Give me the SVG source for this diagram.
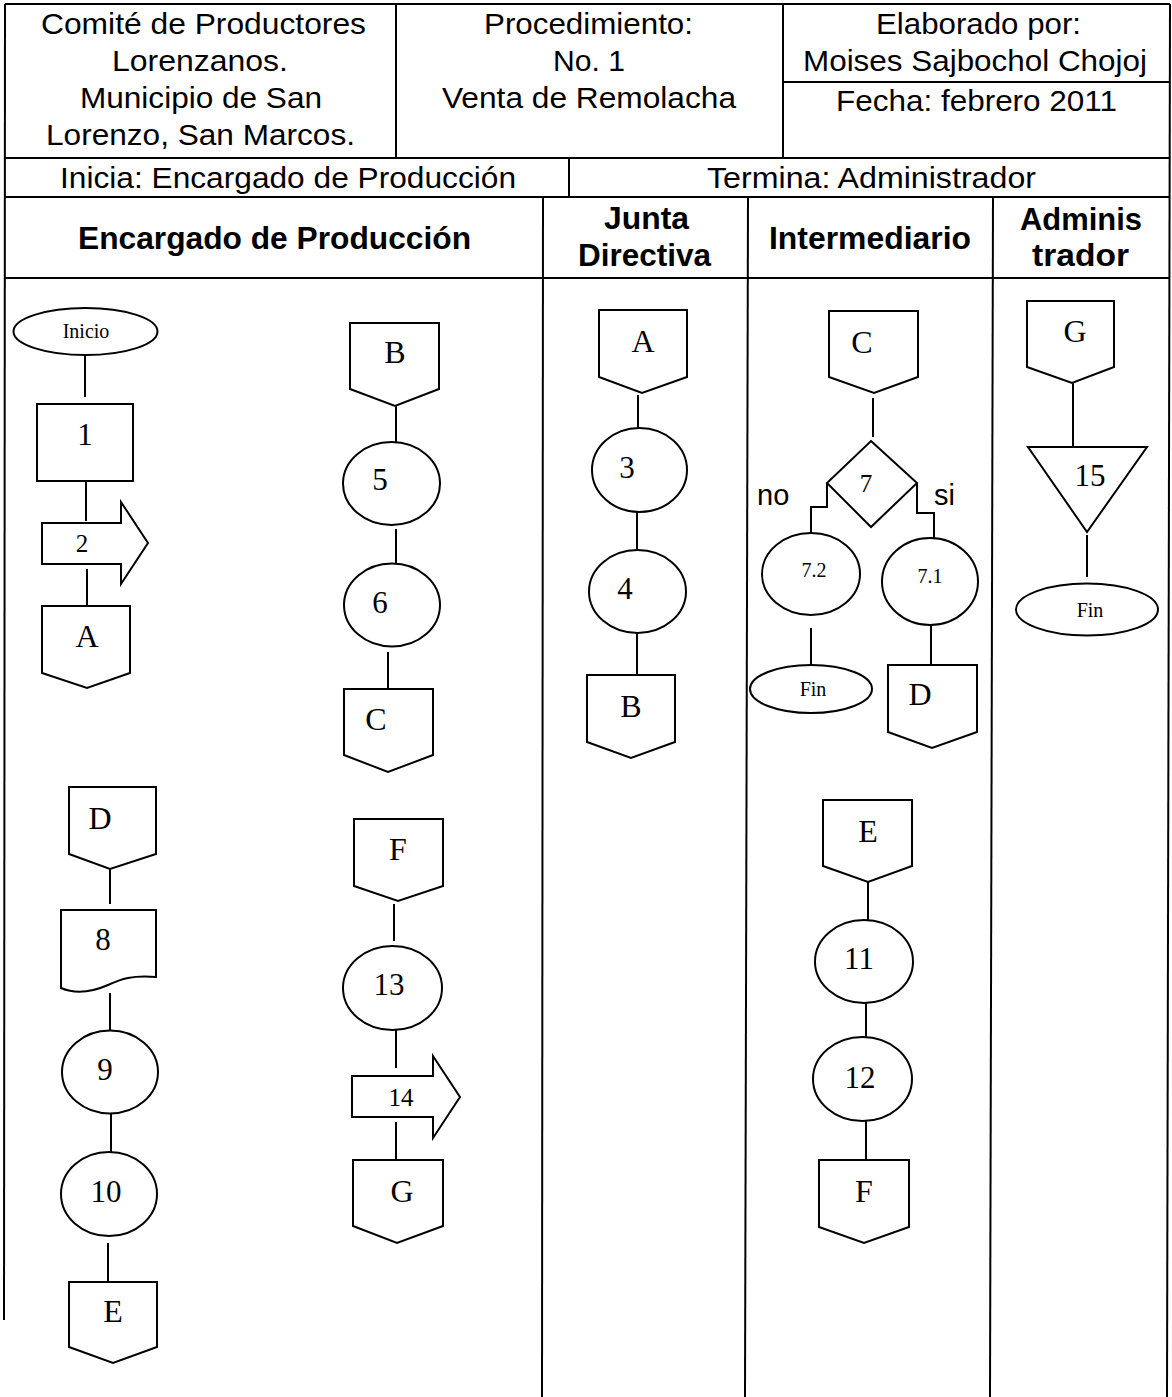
<svg xmlns="http://www.w3.org/2000/svg" width="1172" height="1397" viewBox="0 0 1172 1397">
<style>
.tb{stroke:#000;stroke-width:2;fill:none}
.sh{stroke:#000;stroke-width:2;fill:#fff}
.cn{stroke:#000;stroke-width:2;fill:none}
.h{font-family:"Liberation Sans",Arial,sans-serif;font-size:29px;fill:#000}
.hb{font-family:"Liberation Sans",Arial,sans-serif;font-size:31px;font-weight:bold;fill:#000}
.L{font-family:"Liberation Serif","Times New Roman",serif;font-size:32px;fill:#000;text-anchor:middle}
.N{font-family:"Liberation Serif","Times New Roman",serif;font-size:31px;fill:#000;text-anchor:middle}
.M{font-family:"Liberation Serif","Times New Roman",serif;font-size:25px;fill:#000;text-anchor:middle}
.S{font-family:"Liberation Serif","Times New Roman",serif;font-size:20px;fill:#000;text-anchor:middle}
.ns{font-family:"Liberation Sans",Arial,sans-serif;font-size:29px;fill:#000}
</style>
<rect width="1172" height="1397" fill="#fff"/>
<g id="table">
<line class="tb" x1="5" y1="4" x2="1170" y2="4"/>
<line class="tb" x1="5" y1="158" x2="1170" y2="158"/>
<line class="tb" x1="5" y1="197" x2="1170" y2="197"/>
<line class="tb" x1="5" y1="278" x2="1170" y2="278"/>
<line class="tb" x1="396" y1="4" x2="396" y2="158"/>
<line class="tb" x1="783" y1="4" x2="783" y2="158"/>
<line class="tb" x1="783" y1="82" x2="1170" y2="82"/>
<line class="tb" x1="569" y1="158" x2="569" y2="197"/>
<line class="tb" x1="5" y1="4" x2="4" y2="1320"/>
<line class="tb" x1="543" y1="197" x2="542" y2="1397"/>
<line class="tb" x1="748" y1="197" x2="745" y2="1397"/>
<line class="tb" x1="993" y1="197" x2="990" y2="1397"/>
<line class="tb" x1="1170" y1="4" x2="1167" y2="1397"/>
<text class="h" x="41" y="34" textLength="325" lengthAdjust="spacingAndGlyphs">Comité de Productores</text>
<text class="h" x="112" y="71" textLength="176" lengthAdjust="spacingAndGlyphs">Lorenzanos.</text>
<text class="h" x="80" y="108" textLength="242" lengthAdjust="spacingAndGlyphs">Municipio de San</text>
<text class="h" x="46" y="145" textLength="309" lengthAdjust="spacingAndGlyphs">Lorenzo, San Marcos.</text>
<text class="h" x="484" y="34" textLength="209" lengthAdjust="spacingAndGlyphs">Procedimiento:</text>
<text class="h" x="553" y="71" textLength="72" lengthAdjust="spacingAndGlyphs">No. 1</text>
<text class="h" x="442" y="108" textLength="294" lengthAdjust="spacingAndGlyphs">Venta de Remolacha</text>
<text class="h" x="876" y="34" textLength="205" lengthAdjust="spacingAndGlyphs">Elaborado por:</text>
<text class="h" x="803" y="71" textLength="344" lengthAdjust="spacingAndGlyphs">Moises Sajbochol Chojoj</text>
<text class="h" x="836" y="111" textLength="281" lengthAdjust="spacingAndGlyphs">Fecha: febrero 2011</text>
<text class="h" x="60" y="188" textLength="456" lengthAdjust="spacingAndGlyphs">Inicia: Encargado de Producción</text>
<text class="h" x="707" y="188" textLength="329" lengthAdjust="spacingAndGlyphs">Termina: Administrador</text>
<text class="hb" x="78" y="249" textLength="393" lengthAdjust="spacingAndGlyphs">Encargado de Producción</text>
<text class="hb" x="604" y="229" textLength="85" lengthAdjust="spacingAndGlyphs">Junta</text>
<text class="hb" x="578" y="266" textLength="133" lengthAdjust="spacingAndGlyphs">Directiva</text>
<text class="hb" x="769" y="249" textLength="202" lengthAdjust="spacingAndGlyphs">Intermediario</text>
<text class="hb" x="1020" y="230" textLength="122" lengthAdjust="spacingAndGlyphs">Adminis</text>
<text class="hb" x="1032" y="266" textLength="97" lengthAdjust="spacingAndGlyphs">trador</text>
</g>
<g id="connectors">
<line class="cn" x1="85" y1="355" x2="85" y2="397"/>
<line class="cn" x1="86" y1="481" x2="86" y2="521"/>
<line class="cn" x1="87" y1="569" x2="87" y2="606"/>
<line class="cn" x1="396" y1="406" x2="396" y2="442"/>
<line class="cn" x1="396" y1="529" x2="396" y2="568"/>
<line class="cn" x1="388" y1="652" x2="388" y2="689"/>
<line class="cn" x1="110" y1="869" x2="110" y2="904"/>
<line class="cn" x1="110" y1="993" x2="110" y2="1031"/>
<line class="cn" x1="111" y1="1114" x2="111" y2="1152"/>
<line class="cn" x1="108" y1="1243" x2="108" y2="1282"/>
<line class="cn" x1="394" y1="904" x2="394" y2="941"/>
<line class="cn" x1="396" y1="1030" x2="396" y2="1068"/>
<line class="cn" x1="396" y1="1122" x2="396" y2="1160"/>
<line class="cn" x1="638" y1="395" x2="638" y2="430"/>
<line class="cn" x1="637" y1="512" x2="637" y2="550"/>
<line class="cn" x1="637" y1="633" x2="637" y2="675"/>
<line class="cn" x1="873" y1="398" x2="873" y2="437"/>
<polyline class="cn" points="827,483 827,507 811,507 811,533"/>
<polyline class="cn" points="917,483 917,513 934,513 934,538"/>
<line class="cn" x1="811" y1="628" x2="811" y2="666"/>
<line class="cn" x1="931" y1="625" x2="931" y2="665"/>
<line class="cn" x1="868" y1="882" x2="868" y2="920"/>
<line class="cn" x1="866" y1="1000" x2="866" y2="1037"/>
<line class="cn" x1="866" y1="1121" x2="866" y2="1160"/>
<line class="cn" x1="1073" y1="383" x2="1073" y2="447"/>
<line class="cn" x1="1087" y1="535" x2="1087" y2="577"/>
<text class="ns" x="757" y="505">no</text>
<text class="ns" x="934" y="505">si</text>
</g>
<g id="inicio"><ellipse class="sh" cx="85.5" cy="331.5" rx="72" ry="23.5"/><text class="S" x="86" y="338">Inicio</text></g>
<g id="n1"><rect class="sh" x="37" y="404" width="96" height="77"/><text class="N" x="85" y="445">1</text></g>
<g id="n2"><path class="sh" d="M42,523 H121 V502 L148,543 L121,584 V564 H42 Z"/><text class="M" x="82" y="552">2</text></g>
<g id="offA1"><path class="sh" d="M42,606 H130 V673 L87,688 L42,673 Z"/><text class="L" x="87" y="647">A</text></g>
<g id="offB1"><path class="sh" d="M350,323 H439 V389 L395,406 L350,389 Z"/><text class="L" x="395" y="363">B</text></g>
<g id="n5"><ellipse class="sh" cx="391.5" cy="483.5" rx="48.5" ry="41.5"/><text class="N" x="380" y="490">5</text></g>
<g id="n6"><ellipse class="sh" cx="392" cy="605" rx="48" ry="41.5"/><text class="N" x="380" y="613">6</text></g>
<g id="offC1"><path class="sh" d="M344,689 H433 V755 L388,772 L344,755 Z"/><text class="L" x="376" y="730">C</text></g>
<g id="offD1"><path class="sh" d="M69,787 H156 V854 L110,869 L69,854 Z"/><text class="L" x="100" y="829">D</text></g>
<g id="n8"><path class="sh" d="M61,910 H156 V977 C132,975 121,979 108,985 C92,992 75,994 61,988 Z"/><text class="N" x="103" y="950">8</text></g>
<g id="n9"><ellipse class="sh" cx="110" cy="1072" rx="48" ry="41.5"/><text class="N" x="105" y="1080">9</text></g>
<g id="n10"><ellipse class="sh" cx="109" cy="1194" rx="48" ry="42"/><text class="N" x="106" y="1202">10</text></g>
<g id="offE1"><path class="sh" d="M69,1282 H157 V1347 L113,1363 L69,1347 Z"/><text class="L" x="113" y="1322">E</text></g>
<g id="offF1"><path class="sh" d="M354,819 H443 V886 L398,901 L354,886 Z"/><text class="L" x="398" y="860">F</text></g>
<g id="n13"><ellipse class="sh" cx="392.5" cy="988" rx="49.5" ry="42"/><text class="N" x="389" y="995">13</text></g>
<g id="n14"><path class="sh" d="M352,1076 H433 V1056 L460,1097 L433,1138 V1117 H352 Z"/><text class="M" x="401" y="1106">14</text></g>
<g id="offG1"><path class="sh" d="M353,1160 H443 V1226 L397,1243 L353,1226 Z"/><text class="L" x="402" y="1202">G</text></g>
<g id="offA2"><path class="sh" d="M599,310 H687 V377 L642,393 L599,377 Z"/><text class="L" x="643" y="352">A</text></g>
<g id="n3"><ellipse class="sh" cx="639.5" cy="470" rx="47.5" ry="42"/><text class="N" x="627" y="478">3</text></g>
<g id="n4"><ellipse class="sh" cx="637.5" cy="591.5" rx="48.5" ry="41.5"/><text class="N" x="625" y="599">4</text></g>
<g id="offB2"><path class="sh" d="M587,675 H675 V742 L631,758 L587,742 Z"/><text class="L" x="631" y="717">B</text></g>
<g id="offC2"><path class="sh" d="M829,311 H918 V377 L874,393 L829,377 Z"/><text class="L" x="862" y="353">C</text></g>
<g id="n7"><path class="sh" d="M871,441 L917,483 L871,527 L827,483 Z"/><text class="M" x="866" y="492">7</text></g>
<g id="n72"><ellipse class="sh" cx="811" cy="574" rx="49" ry="41"/><text class="S" x="814" y="577">7.2</text></g>
<g id="fin1"><ellipse class="sh" cx="811" cy="689" rx="61" ry="24"/><text class="S" x="813" y="696">Fin</text></g>
<g id="n71"><ellipse class="sh" cx="930" cy="581.5" rx="48" ry="43.5"/><text class="S" x="930" y="583">7.1</text></g>
<g id="offD2"><path class="sh" d="M888,665 H977 V732 L932,748 L888,732 Z"/><text class="L" x="920" y="705">D</text></g>
<g id="offE2"><path class="sh" d="M823,800 H912 V866 L868,882 L823,866 Z"/><text class="L" x="868" y="842">E</text></g>
<g id="n11"><ellipse class="sh" cx="864" cy="961.5" rx="49" ry="41.5"/><text class="N" x="859" y="969">11</text></g>
<g id="n12"><ellipse class="sh" cx="862.5" cy="1079" rx="49.5" ry="42"/><text class="N" x="860" y="1088">12</text></g>
<g id="offF2"><path class="sh" d="M819,1160 H909 V1227 L864,1243 L819,1227 Z"/><text class="L" x="864" y="1202">F</text></g>
<g id="offG2"><path class="sh" d="M1027,301 H1114 V367 L1072,383 L1027,367 Z"/><text class="L" x="1075" y="342">G</text></g>
<g id="n15"><path class="sh" d="M1028,447 L1147,447 L1087,532 Z"/><text class="N" x="1090" y="486">15</text></g>
<g id="fin2"><ellipse class="sh" cx="1087" cy="609.5" rx="71" ry="26"/><text class="S" x="1090" y="617">Fin</text></g>
</svg>
